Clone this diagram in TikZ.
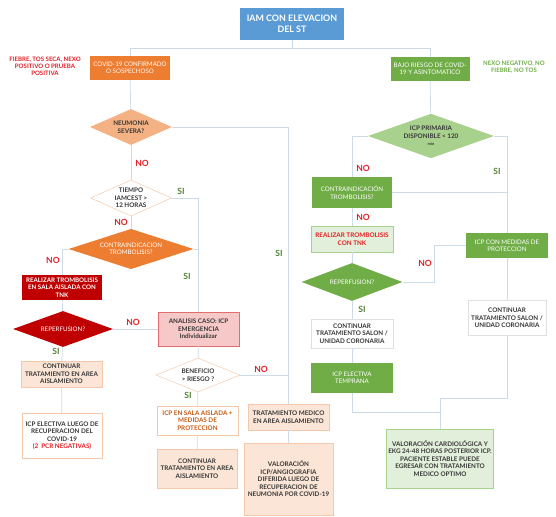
\documentclass[tikz,border=0pt]{standalone}
\usepackage{fontspec}
\setmainfont{Lato}
\usepackage{color}
\usepackage{tikz}
\usetikzlibrary{shapes.geometric,arrows}

\definecolor{iamblue}{RGB}{91,155,213}
\definecolor{covorange}{RGB}{237,125,49}
\definecolor{lightorange}{RGB}{244,177,131}
\definecolor{peach}{RGB}{251,229,214}
\definecolor{peachline}{RGB}{244,200,170}
\definecolor{covgreen}{RGB}{112,173,71}
\definecolor{lightgreen}{RGB}{169,209,142}
\definecolor{palegreen}{RGB}{226,239,218}
\definecolor{darkred}{RGB}{192,0,0}
\definecolor{pinkbox}{RGB}{246,200,200}
\definecolor{pinkline}{RGB}{224,110,110}
\definecolor{nored}{RGB}{226,30,36}
\definecolor{sigreen}{RGB}{84,130,53}
\definecolor{darktext}{RGB}{55,55,55}
\definecolor{brownorange}{RGB}{197,90,17}
\definecolor{linegray}{RGB}{205,218,232}

\begin{document}
\begin{tikzpicture}[
        x=0.03cm, y=-0.03cm,
        line/.style={draw=linegray, line width=0.6pt},
        box/.style={rectangle, minimum width=2.43cm, minimum height=0.78cm, inner sep=1pt, align=center, text=white, font=\fontsize{5.3}{6.3}\selectfont},
        darkbox/.style={box, text=darktext, font=\fontsize{5.4}{6.4}\selectfont\bfseries},
        titlebox/.style={box, fill=iamblue, font=\fontsize{7.6}{9}\selectfont\bfseries},
        orangebox/.style={box, fill=covorange},
        greenbox/.style={box, fill=covgreen},
        redbox/.style={box, fill=darkred, font=\fontsize{5.3}{6.3}\selectfont\bfseries},
        peachbox/.style={darkbox, fill=peach, draw=peachline},
        whitebox/.style={darkbox, fill=white, draw=gray!25},
        palebox/.style={darkbox, fill=palegreen, draw=lightgreen},
        pinkbox/.style={darkbox, fill=pinkbox, draw=pinkline},
        choice/.style={diamond, aspect=2.2, inner sep=0pt, align=center, text=white, font=\fontsize{5.3}{6.3}\selectfont},
        darkchoice/.style={choice, text=darktext, font=\fontsize{5.4}{6.4}\selectfont\bfseries},
        nolabel/.style={text=nored, font=\fontsize{7.3}{8}\selectfont\bfseries},
        silabel/.style={text=sigreen, font=\fontsize{7.3}{8}\selectfont\bfseries},
        sidenote/.style={align=center, font=\fontsize{5.2}{6}\selectfont\bfseries},
    ]
    \useasboundingbox (0,0) rectangle (556,517);

    %Draw the top of the chart
    \node [titlebox, minimum width=3.12cm, minimum height=0.96cm] (title) at (292,24) {IAM CON ELEVACION\\DEL ST};
    \node [orangebox, minimum width=2.4cm, minimum height=0.72cm] (covid) at (130,68) {COVID-19 CONFIRMADO\\O SOSPECHOSO};
    \node [greenbox, minimum width=2.37cm, minimum height=0.72cm] (bajo) at (430,69) {BAJO RIESGO DE COVID-\\19 Y ASINTOMATICO};
    \node [sidenote, text=nored] (fiebre) at (45,66) {FIEBRE, TOS SECA, NEXO\\POSITIVO O PRUEBA\\POSITIVA};
    \node [sidenote, text=covgreen] (nexo) at (514,67) {NEXO NEGATIVO, NO\\FIEBRE, NO TOS};
    \coordinate (split) at (292,48);

    %Draw the covid branch
    \node [darkchoice, fill=lightorange, minimum width=2.46cm, minimum height=1.08cm] (neumonia) at (131,127) {NEUMONIA\\SEVERA?};
    \node [darkchoice, fill=white, draw=peachline, minimum width=2.43cm, minimum height=1.08cm] (tiempo) at (131,198) {TIEMPO\\IAMCEST >\\12 HORAS};
    \node [choice, fill=covorange, minimum width=3.75cm, minimum height=1.08cm] (contra) at (131,249) {CONTRAINDICACION\\TROMBOLISIS?};
    \node [redbox, minimum width=2.4cm, minimum height=0.75cm] (realizar) at (62,287.5) {REALIZAR TROMBOLISIS\\EN SALA AISLADA CON\\TNK};
    \node [choice, fill=darkred, minimum width=3cm, minimum height=1.08cm] (reperf) at (63,329) {REPERFUSION?};
    \node [peachbox] (contarea1) at (61.5,374) {CONTINUAR\\TRATAMIENTO EN AREA\\AISLAMIENTO};
    \node [whitebox, draw=peachline, minimum width=2.4cm, minimum height=1.35cm] (icpelectcovid) at (62,435.5) {ICP ELECTIVA LUEGO DE\\RECUPERACION DEL\\COVID-19\\{\color{nored}(2\ \ PCR NEGATIVAS)}};
    \node [pinkbox, minimum height=1.02cm] (analisis) at (198.5,329) {ANALISIS CASO: ICP\\EMERGENCIA\\Individualizar};
    \node [darkchoice, fill=white, draw=peachline, minimum width=2.52cm, minimum height=1.02cm] (benef) at (198,375) {BENEFICIO\\> RIESGO ?};
    \node [whitebox, draw=peachline, text=brownorange, minimum height=0.87cm] (icpsala) at (197.5,420.5) {ICP EN SALA AISLADA +\\MEDIDAS DE\\PROTECCION};
    \node [peachbox, minimum width=2.4cm, minimum height=1.17cm] (contarea2) at (197,468.5) {CONTINUAR\\TRATAMIENTO EN AREA\\AISLAMIENTO};
    \node [peachbox] (tratmed) at (288.5,417) {TRATAMIENTO MEDICO\\EN AREA AISLAMIENTO};
    \node [peachbox, minimum width=2.67cm, minimum height=2.16cm] (valicp) at (288.5,479) {VALORACIÓN\\ICP/ANGIOGRAFIA\\DIFERIDA LUEGO DE\\RECUPERACION DE\\NEUMONIA POR COVID-19};

    %Draw the low risk branch
    \node [darkchoice, fill=lightgreen, minimum width=3.78cm, minimum height=1.11cm] (icpprim) at (431,136) {ICP PRIMARIA\\DISPONIBLE < 120\\{\fontsize{3.4}{4}\selectfont min}};
    \node [greenbox, minimum width=2.4cm, minimum height=0.93cm] (contrag) at (352,192.5) {CONTRAINDICACIÓN\\TROMBOLISIS?};
    \node [palebox, text=nored, minimum width=2.46cm] (trombtnk) at (352,239) {REALIZAR TROMBOLISIS\\CON TNK};
    \node [choice, fill=covgreen, minimum width=3.03cm, minimum height=1.14cm] (reperfg) at (352,282) {REPERFUSION?};
    \node [whitebox, minimum width=2.46cm, minimum height=0.87cm] (contsalon1) at (352,333.5) {CONTINUAR\\TRATAMIENTO SALON /\\UNIDAD CORONARIA};
    \node [greenbox, minimum width=2.46cm, minimum height=0.9cm] (icpelect) at (352,378) {ICP ELECTIVA\\TEMPRANA};
    \node [greenbox, minimum width=2.46cm, minimum height=0.75cm] (icpmed) at (507,245.5) {ICP CON MEDIDAS DE\\PROTECCION};
    \node [whitebox, minimum width=2.34cm, minimum height=1.05cm] (contsalon2) at (507,318) {CONTINUAR\\TRATAMIENTO SALON /\\UNIDAD CORONARIA};
    \node [palebox, minimum width=3.21cm, minimum height=1.77cm] (valcard) at (440,458.5) {VALORACIÓN CARDIOLÓGICA Y\\EKG 24-48 HORAS POSTERIOR ICP.\\PACIENTE ESTABLE PUEDE\\EGRESAR CON TRATAMIENTO\\MEDICO OPTIMO};
    \coordinate (join) at (440,398);
    \coordinate (merge) at (440,412);

    %Draw the connectors from the title
    \draw [line] (title) -- (split);
    \draw [line] (split) -| (covid);
    \draw [line] (split) -| (bajo);

    %Draw the connectors of the covid branch
    \draw [line] (covid) -- (neumonia);
    \draw [line] (neumonia) -- (tiempo);
    \draw [line] (neumonia.east) -| (tratmed.north);
    \draw [line] (tratmed) -- (valicp);
    \draw [line] (tiempo.east) -| (analisis.north);
    \draw [line] (tiempo) -- (contra);
    \draw [line] (contra.east) -- (contra.east -| analisis.north);
    \draw [line] (contra.west) -| (realizar.north);
    \draw [line] (realizar) -- (reperf);
    \draw [line] (reperf.east) -- (analisis.west);
    \draw [line] (reperf) -- (contarea1);
    \draw [line] (contarea1) -- (icpelectcovid);
    \draw [line] (analisis) -- (benef);
    \draw [line] (benef) -- (icpsala);
    \draw [line] (icpsala) -- (contarea2);
    \draw [line] (benef.east) -- (benef.east -| tratmed.north);

    %Draw the connectors of the low risk branch
    \draw [line] (bajo) -- (icpprim);
    \draw [line] (icpprim.west) -| (contrag.north);
    \draw [line] (icpprim.east) -| (icpmed.north);
    \draw [line] (contrag.east) -- (contrag.east -| icpmed.north);
    \draw [line] (contrag) -- (trombtnk);
    \draw [line] (trombtnk) -- (reperfg);
    \draw [line] (reperfg.east) -- ++(32,0) |- (icpmed.west);
    \draw [line] (reperfg) -- (contsalon1);
    \draw [line] (contsalon1) -- (icpelect);
    \draw [line] (icpmed) -- (contsalon2);
    \draw [line] (contsalon2.south) |- (join) -- (valcard.north);
    \draw [line] (icpelect.south) |- (merge);

    %Draw the SI / NO labels
    \node [nolabel] (no1) at (142,163) {NO};
    \node [silabel] (si1) at (181,191) {SI};
    \node [nolabel] (no2) at (121,222) {NO};
    \node [nolabel] (no3) at (53,260) {NO};
    \node [silabel] (si2) at (187,276) {SI};
    \node [silabel] (si3) at (279,253) {SI};
    \node [nolabel] (no4) at (133,322) {NO};
    \node [silabel] (si4) at (56,351) {SI};
    \node [silabel] (si5) at (188,395) {SI};
    \node [nolabel] (no5) at (261,369) {NO};
    \node [nolabel] (no6) at (363,168) {NO};
    \node [silabel] (si6) at (497,171) {SI};
    \node [nolabel] (no7) at (363,217) {NO};
    \node [nolabel] (no8) at (425,263) {NO};
    \node [silabel] (si7) at (362,309) {SI};
    \end{tikzpicture}
\end{document}
